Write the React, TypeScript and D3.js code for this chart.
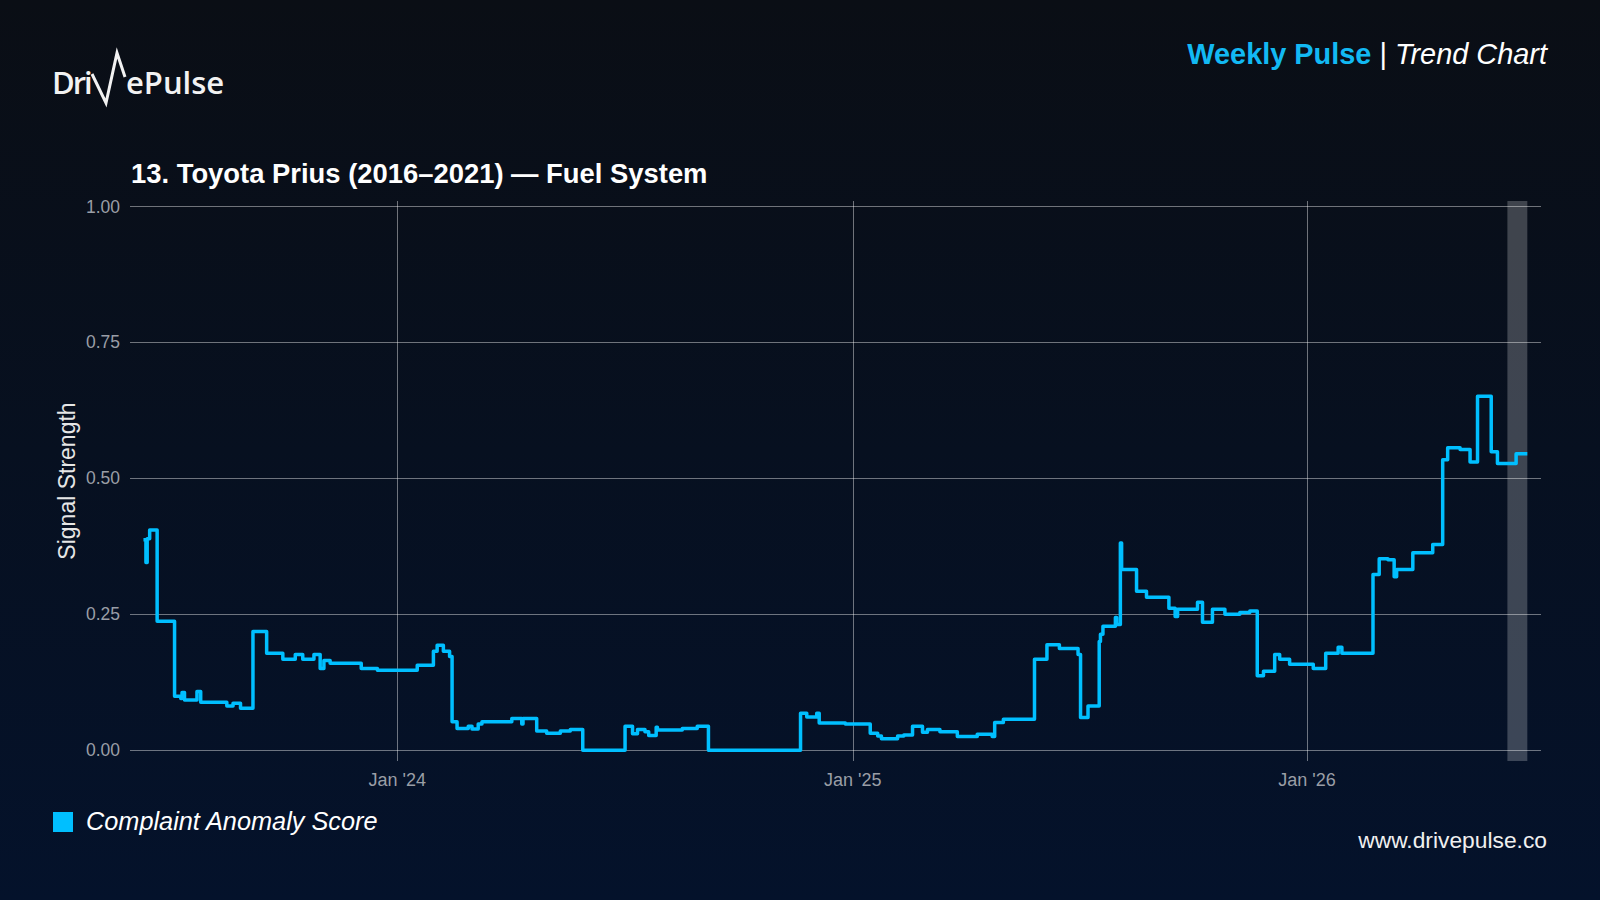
import React, { useEffect, useRef } from 'react';
import * as d3 from 'd3';

// step points of the weekly anomaly signal (value holds until the next date)
const stepDates = [
  '2023-06-11', '2023-06-13', '2023-06-14', '2023-06-16', '2023-06-22', '2023-07-06',
  '2023-07-11', '2023-07-12', '2023-07-14', '2023-07-24', '2023-07-27', '2023-08-17',
  '2023-08-22', '2023-08-28', '2023-09-07', '2023-09-18', '2023-10-01', '2023-10-11',
  '2023-10-17', '2023-10-26', '2023-10-31', '2023-11-03', '2023-11-08', '2023-12-03',
  '2023-12-16', '2024-01-17', '2024-01-30', '2024-02-02', '2024-02-07', '2024-02-12',
  '2024-02-14', '2024-02-18', '2024-02-27', '2024-03-01', '2024-03-06', '2024-03-09',
  '2024-04-02', '2024-04-10', '2024-04-11', '2024-04-22', '2024-04-30', '2024-05-11',
  '2024-05-19', '2024-05-29', '2024-07-02', '2024-07-08', '2024-07-12', '2024-07-18',
  '2024-07-21', '2024-07-27', '2024-07-28', '2024-08-17', '2024-08-29', '2024-09-07',
  '2024-11-20', '2024-11-25', '2024-12-03', '2024-12-05', '2024-12-26', '2025-01-15',
  '2025-01-21', '2025-01-24', '2025-02-06', '2025-02-11', '2025-02-18', '2025-02-26',
  '2025-03-02', '2025-03-12', '2025-03-26', '2025-04-11', '2025-04-23', '2025-04-25',
  '2025-05-02', '2025-05-27', '2025-06-06', '2025-06-16', '2025-07-01', '2025-07-03',
  '2025-07-09', '2025-07-18', '2025-07-19', '2025-07-21', '2025-07-31', '2025-08-01',
  '2025-08-04', '2025-08-05', '2025-08-17', '2025-08-25', '2025-09-12', '2025-09-17',
  '2025-09-19', '2025-10-05', '2025-10-09', '2025-10-17', '2025-10-27', '2025-11-08',
  '2025-11-16', '2025-11-22', '2025-11-27', '2025-12-06', '2025-12-10', '2025-12-18',
  '2026-01-06', '2026-01-16', '2026-01-26', '2026-01-29', '2026-02-23', '2026-02-28',
  '2026-03-07', '2026-03-12', '2026-03-14', '2026-03-27', '2026-04-12', '2026-04-20',
  '2026-04-24', '2026-05-04', '2026-05-12', '2026-05-18', '2026-05-29', '2026-06-03',
  '2026-06-18', '2026-06-27',
];

const anomalyScores = [
  0.387, 0.345, 0.389, 0.405, 0.237, 0.099,
  0.095, 0.106, 0.092, 0.108, 0.088, 0.081,
  0.086, 0.077, 0.218, 0.178, 0.167, 0.176,
  0.167, 0.176, 0.150, 0.165, 0.160, 0.150,
  0.147, 0.156, 0.182, 0.193, 0.182, 0.172,
  0.052, 0.040, 0.044, 0.039, 0.048, 0.052,
  0.058, 0.048, 0.058, 0.035, 0.031, 0.035,
  0.038, 0.000, 0.044, 0.030, 0.038, 0.034,
  0.027, 0.042, 0.037, 0.040, 0.044, 0.000,
  0.068, 0.061, 0.068, 0.050, 0.048, 0.031,
  0.026, 0.021, 0.026, 0.028, 0.044, 0.033,
  0.038, 0.034, 0.025, 0.029, 0.025, 0.051,
  0.057, 0.167, 0.194, 0.187, 0.176, 0.060,
  0.081, 0.200, 0.213, 0.228, 0.244, 0.231,
  0.381, 0.332, 0.292, 0.281, 0.261, 0.246,
  0.259, 0.272, 0.235, 0.259, 0.250, 0.253,
  0.256, 0.137, 0.145, 0.176, 0.167, 0.158,
  0.150, 0.178, 0.189, 0.178, 0.323, 0.352,
  0.350, 0.319, 0.332, 0.363, 0.378, 0.534,
  0.556, 0.553, 0.530, 0.651, 0.549, 0.527,
  0.545, 0.545,
];

const xDomain = ['2023-06-01', '2026-07-08'];
const xTickDates = ['2024-01-01', '2025-01-01', '2026-01-01'];
const xTickLabels = ["Jan '24", "Jan '25", "Jan '26"];
const yTicks = [0, 0.25, 0.5, 0.75, 1.0];
const highlightRange = ['2026-06-11', '2026-06-27'];

const seriesName = 'Complaint Anomaly Score';
const chartTitle = '13. Toyota Prius (2016\u20132021) \u2014 Fuel System';

const W = 1600;
const H = 900;
const LINE = '#00bfff';
const FONT = '"Liberation Sans", Arial, sans-serif';

const App: React.FC = () => {
  const svgRef = useRef<SVGSVGElement>(null);

  useEffect(() => {
    if (!svgRef.current) return;
    const svg = d3.select(svgRef.current);
    svg.selectAll('*').remove();

    const parse = d3.utcParse('%Y-%m-%d');
    const data = stepDates.map((d, i) => ({ date: parse(d) as Date, value: anomalyScores[i] }));

    const plot = { left: 130, right: 1541, top: 201, bottom: 761 };

    const x = d3.scaleUtc()
      .domain(xDomain.map(d => parse(d) as Date))
      .range([131, 1541]);

    const y = d3.scaleLinear()
      .domain([-0.02, 1.01])
      .range([plot.bottom, plot.top]);

    // background
    const defs = svg.append('defs');
    const grad = defs.append('linearGradient')
      .attr('id', 'bg')
      .attr('x1', 0).attr('y1', 0).attr('x2', 0).attr('y2', 1);
    grad.append('stop').attr('offset', '0%').attr('stop-color', '#0a0e15');
    grad.append('stop').attr('offset', '100%').attr('stop-color', '#04122b');
    svg.append('rect').attr('width', W).attr('height', H).attr('fill', 'url(#bg)');

    // logo
    const logo = svg.append('g').attr('font-family', '"Open Sans", sans-serif')
      .attr('font-weight', 600).attr('font-size', 31).attr('fill', '#f2f2f2');
    logo.append('text').attr('x', 52).attr('y', 94).attr('letter-spacing', -2).text('Dri');
    logo.append('path')
      .attr('d', 'M92,74 L106,103 L117,53 L125,77')
      .attr('fill', 'none')
      .attr('stroke', '#f2f2f2')
      .attr('stroke-width', 3)
      .attr('stroke-linejoin', 'miter');
    logo.append('text').attr('x', 126).attr('y', 94).text('ePulse');

    // header
    const header = svg.append('text')
      .attr('x', 1547).attr('y', 64)
      .attr('text-anchor', 'end')
      .attr('font-family', FONT)
      .attr('font-size', 28.9);
    header.append('tspan').attr('font-weight', 'bold').attr('fill', '#12b9f3').text('Weekly Pulse');
    header.append('tspan').attr('fill', '#ffffff').text(' | ');
    header.append('tspan').attr('fill', '#ffffff').attr('font-style', 'italic').text('Trend Chart');

    // title
    svg.append('text')
      .attr('x', 131).attr('y', 183)
      .attr('font-family', FONT)
      .attr('font-size', 27.4)
      .attr('font-weight', 'bold')
      .attr('fill', '#ffffff')
      .text(chartTitle);

    // highlight band
    svg.append('rect')
      .attr('x', x(parse(highlightRange[0]) as Date))
      .attr('y', plot.top)
      .attr('width', x(parse(highlightRange[1]) as Date) - x(parse(highlightRange[0]) as Date))
      .attr('height', plot.bottom - plot.top)
      .attr('fill', '#ffffff')
      .attr('fill-opacity', 0.225);

    // grid
    const grid = svg.append('g').attr('stroke', '#ffffff').attr('stroke-opacity', 0.42).attr('stroke-width', 1);
    grid.selectAll('line.h')
      .data(yTicks)
      .join('line')
      .attr('class', 'h')
      .attr('x1', plot.left).attr('x2', plot.right)
      .attr('y1', d => Math.round(y(d)) + 0.5).attr('y2', d => Math.round(y(d)) + 0.5);
    grid.selectAll('line.v')
      .data(xTickDates)
      .join('line')
      .attr('class', 'v')
      .attr('x1', d => Math.round(x(parse(d) as Date)) + 0.5)
      .attr('x2', d => Math.round(x(parse(d) as Date)) + 0.5)
      .attr('y1', plot.top).attr('y2', plot.bottom);

    // y tick labels
    svg.append('g')
      .selectAll('text')
      .data(yTicks)
      .join('text')
      .attr('x', 120)
      .attr('y', d => y(d))
      .attr('dy', '0.35em')
      .attr('text-anchor', 'end')
      .attr('font-family', FONT)
      .attr('font-size', 17.5)
      .attr('fill', '#9a9ea6')
      .text(d => d3.format('.2f')(d));

    // x tick labels
    svg.append('g')
      .selectAll('text')
      .data(xTickDates)
      .join('text')
      .attr('x', d => x(parse(d) as Date))
      .attr('y', 786)
      .attr('text-anchor', 'middle')
      .attr('font-family', FONT)
      .attr('font-size', 18)
      .attr('fill', '#9a9ea6')
      .text((d, i) => xTickLabels[i]);

    // y axis title
    svg.append('text')
      .attr('transform', 'translate(75,481) rotate(-90)')
      .attr('text-anchor', 'middle')
      .attr('font-family', FONT)
      .attr('font-size', 23)
      .attr('fill', '#e6e6e6')
      .text('Signal Strength');

    // signal line
    const line = d3.line<{ date: Date; value: number }>()
      .x(d => x(d.date))
      .y(d => y(d.value))
      .curve(d3.curveStepAfter);

    svg.append('path')
      .datum(data)
      .attr('d', line)
      .attr('fill', 'none')
      .attr('stroke', LINE)
      .attr('stroke-width', 3.5)
      .attr('stroke-linejoin', 'round');

    // legend
    svg.append('rect')
      .attr('x', 53).attr('y', 812)
      .attr('width', 20).attr('height', 20)
      .attr('fill', LINE);
    svg.append('text')
      .attr('x', 86).attr('y', 830)
      .attr('font-family', FONT)
      .attr('font-size', 25.3)
      .attr('font-style', 'italic')
      .attr('fill', '#ffffff')
      .text(seriesName);

    // footer
    svg.append('text')
      .attr('x', 1547).attr('y', 848)
      .attr('text-anchor', 'end')
      .attr('font-family', FONT)
      .attr('font-size', 22.8)
      .attr('fill', '#f0f0f0')
      .text('www.drivepulse.co');
  }, []);

  return (
    <div style={{ position: 'absolute', left: 0, top: 0, width: W, height: H }}>
      <svg ref={svgRef} width={W} height={H} viewBox={`0 0 ${W} ${H}`} style={{ display: 'block' }} />
    </div>
  );
};

export default App;
